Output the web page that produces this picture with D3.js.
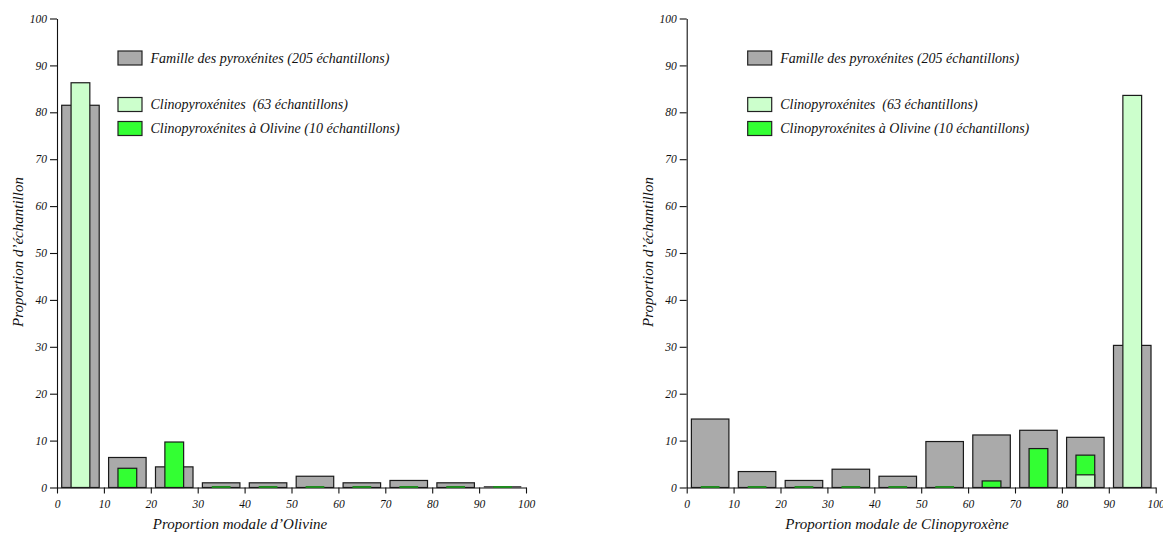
<!DOCTYPE html>
<html><head><meta charset="utf-8">
<script src="https://cdn.jsdelivr.net/npm/d3@7"></script>
<style>body{margin:0;background:#fff}svg{display:block}svg text{font-family:"Liberation Serif","Times New Roman",serif !important;font-style:italic;fill:#111}</style>
</head><body><svg id="c" width="1163" height="533"></svg>
<script>
const binStarts = [0,10,20,30,40,50,60,70,80,90];
const xTicks = [0,10,20,30,40,50,60,70,80,90,100];
const yTicks = [0,10,20,30,40,50,60,70,80,90,100];
const legendLabels = ["Famille des pyroxénites (205 échantillons)","Clinopyroxénites  (63 échantillons)","Clinopyroxénites à Olivine (10 échantillons)"];
// Olivine panel
const olFamille = [81.5,6.4,4.4,1.0,1.0,2.4,1.0,1.5,1.0,0];
const olClinopyroxenites = [86.3,0,0,0,0,0,0,0,0,0];
const olClinoOlivine = [0,4.1,9.7,0,0,0,0,0,0,0];
// Clinopyroxene panel
const cpxFamille = [14.6,3.4,1.5,3.9,2.4,9.8,11.2,12.2,10.7,30.3];
const cpxClinopyroxenites = [0,0,0,0,0,0,0,0,2.7,83.6];
const cpxClinoOlivine = [0,0,0,0,0,0,1.4,8.3,6.9,0];

const colors = {famille:"#aaaaaa", clino:"#ccffcc", olivine:"#33ff33"};
const zeroColors = {famille:"#555555", olivine:"#1f8a1f"};
const svg = d3.select("#c");
const FONT = "Liberation Serif, Times New Roman, serif";

function panel(cfg){
  const g = svg.append("g");
  const x = d3.scaleLinear().domain([0,100]).range([cfg.x0, cfg.x0+469]);
  const y = d3.scaleLinear().domain([0,100]).range([487.5,18.5]);
  const xa = g.append("g").attr("transform",`translate(0,${y(0)})`)
    .call(d3.axisBottom(x).tickValues(xTicks).tickSize(6).tickSizeOuter(0).tickPadding(6).tickFormat(d3.format("d")));
  const ya = g.append("g").attr("transform",`translate(${x(0)},0)`)
    .call(d3.axisLeft(y).tickValues(yTicks).tickSize(7).tickSizeOuter(0).tickPadding(3).tickFormat(d3.format("d")));
  [xa,ya].forEach(a=>{a.attr("font-family",FONT).attr("font-size",11.5);a.selectAll("text").attr("font-style","italic").attr("fill","#111");});
  g.selectAll(".domain,.tick line").attr("stroke","#111").attr("stroke-width",1.1);

  function bars(vals, key, fill, off, w, skipZero){
    const data = binStarts.map((b,i)=>({b, v: vals[i]}));
    const nz = data.filter(d=>d.v>0);
    g.append("g").selectAll("rect").data(nz).join("rect")
      .attr("x", d=>x(d.b+off)).attr("width", d=>x(d.b+off+w)-x(d.b+off))
      .attr("y", d=>y(d.v)).attr("height", d=>y(0)-y(d.v))
      .attr("fill", fill).attr("stroke","#1a1a1a").attr("stroke-width",1.2);
    if(!skipZero){
      g.append("g").selectAll("line").data(data.filter(d=>d.v===0)).join("line")
        .attr("x1", d=>x(d.b+off)).attr("x2", d=>x(d.b+off+w))
        .attr("y1", y(0)-0.5).attr("y2", y(0)-0.5)
        .attr("stroke", zeroColors[key]).attr("stroke-width",2);
    }
  }
  bars(cfg.famille, "famille", colors.famille, 1, 8, false);
  bars(cfg.olivine, "olivine", colors.olivine, 3, 4, false);
  bars(cfg.clino, "clino", colors.clino, 3, 4, true);

  const ly = [51, 97.5, 121.5];
  const lc = [colors.famille, colors.clino, colors.olivine];
  legendLabels.forEach((t,i)=>{
    g.append("rect").attr("x", cfg.x0+61).attr("y", ly[i]).attr("width",24).attr("height",14)
      .attr("fill", lc[i]).attr("stroke","#222").attr("stroke-width",1.2);
    g.append("text").attr("x", cfg.x0+93.5).attr("y", ly[i]+11.5).attr("font-size","14px").attr("xml:space","preserve").style("white-space","pre").text(t);
  });
  g.append("text").attr("x", cfg.titleX).attr("y", 529).attr("text-anchor","middle").attr("font-size","15px").text(cfg.title);
  g.append("text").attr("transform",`translate(${cfg.yTitleX},252) rotate(-90)`).attr("text-anchor","middle").attr("font-size","15px").text("Proportion d’échantillon");
}

panel({x0:57, famille:olFamille, clino:olClinopyroxenites, olivine:olClinoOlivine, title:"Proportion modale d’Olivine", titleX:240, yTitleX:23});
panel({x0:686.7, famille:cpxFamille, clino:cpxClinopyroxenites, olivine:cpxClinoOlivine, title:"Proportion modale de Clinopyroxène", titleX:897, yTitleX:653});
</script></body></html>
